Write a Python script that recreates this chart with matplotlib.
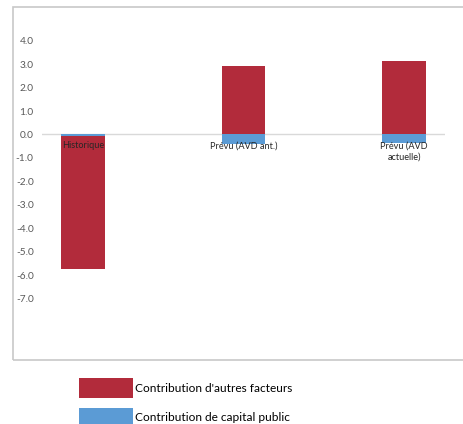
import numpy as np
import matplotlib
matplotlib.use("Agg")
import matplotlib.pyplot as plt
from matplotlib.patches import Rectangle

plt.rcParams['font.family'] = ['Lato', 'DejaVu Sans']

# data
categories = ["Historique", "Prévu (AVD ant.)", "Prévu (AVD\nactuelle)"]
capital_public = np.array([-0.07, -0.40, -0.37])
autres_facteurs = np.array([-5.68, 2.92, 3.13])
yticks = np.arange(-7, 5, 1)

red = '#b22b3b'
blue = '#5b9bd5'

W, H = 464, 424
fig = plt.figure(figsize=(W / 100, H / 100), dpi=100)

# outer chart frame (extends past the right edge like the original)
fig.patches.append(Rectangle((13 / W, 1 - 360 / H), 470 / W, 353 / H,
                             transform=fig.transFigure, fill=False,
                             edgecolor='#c8c8c8', linewidth=1.2))

# axes in pixel coords: x 42..445, y 30..320
ax = fig.add_axes([42 / W, 1 - 320 / H, (445 - 42) / W, (320 - 30) / H])
x = np.arange(len(categories))
bw = 0.27

# stacked bars, positive and negative stacked separately
pos_base = np.zeros(len(x))
neg_base = np.zeros(len(x))
for vals, col, lab in [(capital_public, blue, 'Contribution de capital public'),
                       (autres_facteurs, red, "Contribution d'autres facteurs")]:
    bottom = np.where(vals >= 0, pos_base, neg_base)
    ax.bar(x, vals, bw, bottom=bottom, color=col, linewidth=0,
           label=lab, zorder=2)
    pos_base = pos_base + np.where(vals >= 0, vals, 0)
    neg_base = neg_base + np.where(vals < 0, vals, 0)

ax.axhline(0, color='#d9d9d9', linewidth=1, zorder=1)
ax.set_xlim(-0.255, 2.255)
ax.set_ylim(-7.91, 4.456)
ax.set_yticks(yticks)
ax.set_yticklabels([f"{v:.1f}" for v in yticks], fontsize=7.3, color='#595959')
ax.tick_params(axis='y', length=0, pad=6)
ax.set_xticks([])
for s in ax.spines.values():
    s.set_visible(False)

for i, c in enumerate(categories):
    ax.annotate(c, xy=(i, 0), xytext=(0, -5), textcoords='offset points',
                ha='center', va='top', fontsize=6.6, color='#262626',
                zorder=5, linespacing=1.3)

# legend, red entry first
h, l = ax.get_legend_handles_labels()
fig.legend(h[::-1], l[::-1], loc='upper left',
           bbox_to_anchor=(79 / W, 1 - 378 / H), frameon=False,
           fontsize=8.6, handlelength=4.52, handleheight=2.2,
           labelspacing=0.8, handletextpad=0.2, borderaxespad=0,
           borderpad=0)

fig.savefig('out.png', dpi=100)
